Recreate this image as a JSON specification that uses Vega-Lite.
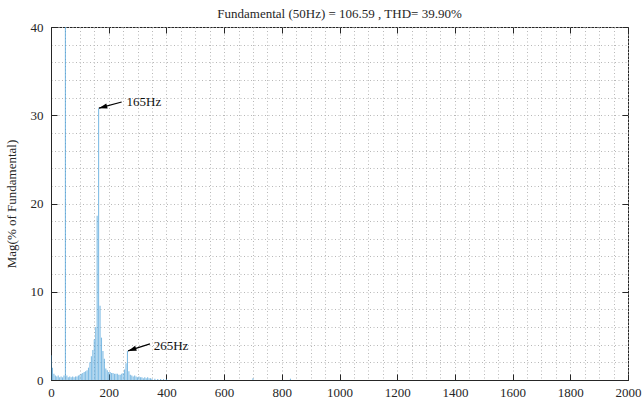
{
  "$schema": "https://vega.github.io/schema/vega-lite/v6.json",
  "width": 577,
  "height": 353,
  "autosize": {"type": "none"},
  "padding": {"left": 51, "top": 27, "right": 15, "bottom": 21},
  "background": "white",
  "title": {
    "text": "Fundamental (50Hz) = 106.59 , THD= 39.90%",
    "font": "Liberation Serif",
    "fontSize": 13,
    "fontWeight": "normal",
    "color": "#262626",
    "anchor": "middle",
    "offset": 0
  },
  "config": {
    "view": {"stroke": "#262626", "strokeWidth": 1},
    "axis": {
      "labelFont": "Liberation Serif",
      "labelFontSize": 13,
      "labelColor": "#262626",
      "titleFont": "Liberation Serif",
      "titleFontSize": 13,
      "titleFontWeight": "normal",
      "titleColor": "#262626",
      "domainColor": "#262626",
      "tickColor": "#262626",
      "tickWidth": 1,
      "gridColor": "#b8b8b8",
      "gridDash": [1, 2.5],
      "gridWidth": 1,
      "labelOverlap": false,
      "labelFlush": false
    }
  },
  "datasets": {
    "spectrum": [
      {"freq": 0, "mag": 2.8}, {"freq": 5, "mag": 1.4}, {"freq": 10, "mag": 0.7}, {"freq": 15, "mag": 0.5},
      {"freq": 20, "mag": 0.4}, {"freq": 25, "mag": 0.5}, {"freq": 30, "mag": 0.3}, {"freq": 35, "mag": 0.4},
      {"freq": 40, "mag": 0.3}, {"freq": 45, "mag": 0.5}, {"freq": 50, "mag": 100}, {"freq": 55, "mag": 0.5},
      {"freq": 60, "mag": 0.3}, {"freq": 65, "mag": 0.4}, {"freq": 70, "mag": 0.3}, {"freq": 75, "mag": 0.4},
      {"freq": 80, "mag": 0.3}, {"freq": 85, "mag": 0.4}, {"freq": 90, "mag": 0.4}, {"freq": 95, "mag": 0.5},
      {"freq": 100, "mag": 0.6}, {"freq": 105, "mag": 0.7}, {"freq": 110, "mag": 0.8}, {"freq": 115, "mag": 0.9},
      {"freq": 120, "mag": 1.0}, {"freq": 125, "mag": 1.1}, {"freq": 130, "mag": 1.4}, {"freq": 135, "mag": 2.0},
      {"freq": 140, "mag": 2.7}, {"freq": 145, "mag": 3.4}, {"freq": 150, "mag": 4.6}, {"freq": 155, "mag": 6.0},
      {"freq": 160, "mag": 18.6}, {"freq": 165, "mag": 30.8}, {"freq": 170, "mag": 8.4}, {"freq": 175, "mag": 4.8},
      {"freq": 180, "mag": 3.3}, {"freq": 185, "mag": 2.4}, {"freq": 190, "mag": 1.3}, {"freq": 195, "mag": 1.1},
      {"freq": 200, "mag": 0.9}, {"freq": 205, "mag": 0.9}, {"freq": 210, "mag": 0.8}, {"freq": 215, "mag": 0.8},
      {"freq": 220, "mag": 0.7}, {"freq": 225, "mag": 0.7}, {"freq": 230, "mag": 0.7}, {"freq": 235, "mag": 0.6},
      {"freq": 240, "mag": 0.6}, {"freq": 245, "mag": 0.7}, {"freq": 250, "mag": 0.8}, {"freq": 255, "mag": 1.2},
      {"freq": 260, "mag": 1.9}, {"freq": 265, "mag": 3.3}, {"freq": 270, "mag": 1.0}, {"freq": 275, "mag": 0.6},
      {"freq": 280, "mag": 0.5}, {"freq": 285, "mag": 0.4}, {"freq": 290, "mag": 0.5}, {"freq": 295, "mag": 0.4},
      {"freq": 300, "mag": 0.3}, {"freq": 305, "mag": 0.4}, {"freq": 310, "mag": 0.3}, {"freq": 315, "mag": 0.3},
      {"freq": 320, "mag": 0.2}, {"freq": 325, "mag": 0.3}, {"freq": 330, "mag": 0.2}, {"freq": 335, "mag": 0.3},
      {"freq": 340, "mag": 0.2}, {"freq": 345, "mag": 0.2}, {"freq": 350, "mag": 0.15}, {"freq": 360, "mag": 0.15},
      {"freq": 370, "mag": 0.1}, {"freq": 380, "mag": 0.1}, {"freq": 390, "mag": 0.1}, {"freq": 400, "mag": 0.1},
      {"freq": 700, "mag": 0.2}, {"freq": 830, "mag": 0.15}
    ],
    "notes": [
      {"label": "165Hz", "freq": 262, "mag": 31.5, "fromFreq": 245, "fromMag": 31.5, "toFreq": 166, "toMag": 30.8},
      {"label": "265Hz", "freq": 356, "mag": 3.9, "fromFreq": 343, "fromMag": 4.1, "toFreq": 267, "toMag": 3.3}
    ]
  },
  "layer": [
    {
      "data": {"name": "spectrum"},
      "mark": {"type": "rule", "color": "#4a9fd9", "strokeWidth": 1.1, "opacity": 0.7, "clip": true},
      "encoding": {
        "x": {
          "field": "freq",
          "type": "quantitative",
          "scale": {"domain": [0, 2000], "nice": false, "zero": false},
          "axis": {
            "orient": "bottom",
            "title": null,
            "format": "d",
            "values": [0, 50, 100, 150, 200, 250, 300, 350, 400, 450, 500, 550, 600, 650, 700, 750, 800, 850, 900, 950, 1000, 1050, 1100, 1150, 1200, 1250, 1300, 1350, 1400, 1450, 1500, 1550, 1600, 1650, 1700, 1750, 1800, 1850, 1900, 1950, 2000],
            "grid": true,
            "tickSize": -6,
            "tickOpacity": {"condition": {"test": "datum.value % 200 === 0", "value": 1}, "value": 0},
            "labelExpr": "datum.value % 200 === 0 ? datum.label : ''",
            "labelPadding": 12
          }
        },
        "y": {
          "field": "mag",
          "type": "quantitative",
          "scale": {"domain": [0, 40], "nice": false},
          "axis": {
            "orient": "left",
            "title": "Mag(% of Fundamental)",
            "titlePadding": 12,
            "format": "d",
            "values": [0, 2, 4, 6, 8, 10, 12, 14, 16, 18, 20, 22, 24, 26, 28, 30, 32, 34, 36, 38, 40],
            "grid": true,
            "tickSize": -6,
            "tickOpacity": {"condition": {"test": "datum.value % 10 === 0", "value": 1}, "value": 0},
            "labelExpr": "datum.value % 10 === 0 ? datum.label : ''",
            "labelPadding": 14
          }
        },
        "y2": {"datum": 0}
      }
    },
    {
      "data": {"name": "notes"},
      "mark": {"type": "text", "align": "left", "baseline": "middle", "font": "Liberation Serif", "fontSize": 13, "color": "#111111"},
      "encoding": {
        "x": {
          "field": "freq",
          "type": "quantitative",
          "axis": {
            "orient": "top", "title": null, "labels": false, "grid": false, "domain": false,
            "values": [0, 200, 400, 600, 800, 1000, 1200, 1400, 1600, 1800, 2000],
            "tickSize": -6
          }
        },
        "y": {
          "field": "mag",
          "type": "quantitative",
          "axis": {
            "orient": "right", "title": null, "labels": false, "grid": false, "domain": false,
            "values": [0, 10, 20, 30, 40],
            "tickSize": -6
          }
        },
        "text": {"field": "label"}
      }
    },
    {
      "data": {"name": "notes"},
      "mark": {"type": "rule", "color": "#000000", "strokeWidth": 1.2},
      "encoding": {
        "x": {"field": "fromFreq", "type": "quantitative", "axis": null},
        "y": {"field": "fromMag", "type": "quantitative", "axis": null},
        "x2": {"field": "toFreq"},
        "y2": {"field": "toMag"}
      }
    },
    {
      "data": {"name": "notes"},
      "mark": {"type": "point", "shape": "M0,0L-0.32,1L0.32,1Z", "filled": true, "color": "#000000", "opacity": 1, "size": 280},
      "encoding": {
        "x": {"field": "toFreq", "type": "quantitative", "axis": null},
        "y": {"field": "toMag", "type": "quantitative", "axis": null},
        "angle": {"condition": {"test": "datum.label === '165Hz'", "value": 255}, "value": 252}
      }
    }
  ],
  "resolve": {"axis": {"x": "independent", "y": "independent"}}
}
